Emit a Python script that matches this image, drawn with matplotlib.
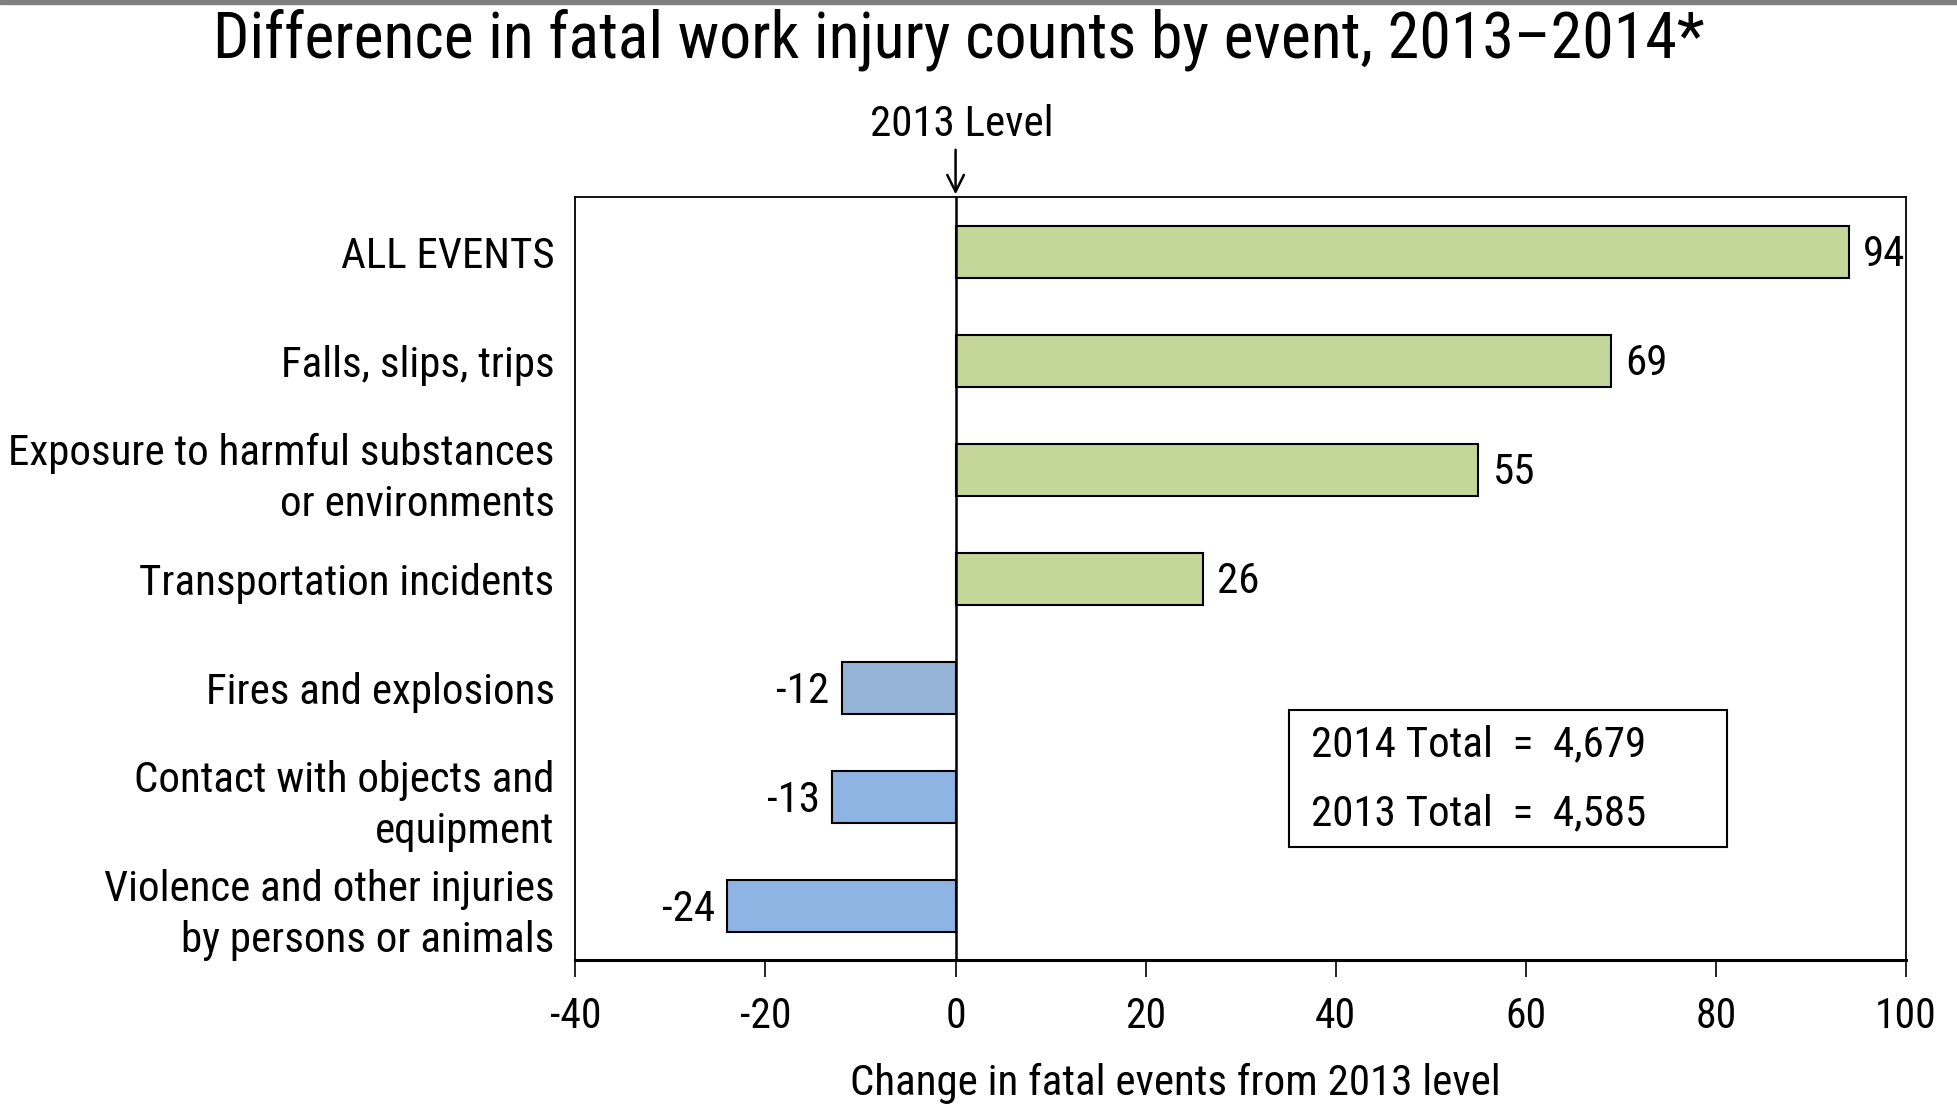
import matplotlib
matplotlib.use('Agg')
import matplotlib.pyplot as plt
from matplotlib import font_manager
from matplotlib.patches import Rectangle
import numpy as np

# data, top to bottom
events = ['ALL EVENTS',
          'Falls, slips, trips',
          'Exposure to harmful substances\nor environments',
          'Transportation incidents',
          'Fires and explosions',
          'Contact with objects and\nequipment',
          'Violence and other injuries\nby persons or animals']
changes = [94, 69, 55, 26, -12, -13, -24]
bar_colors = ['#c4d79b', '#c4d79b', '#c4d79b', '#c4d79b', '#95b3d7', '#8db4e2', '#8db4e2']
total_2014 = '4,679'
total_2013 = '4,585'
xticks = [-40, -20, 0, 20, 40, 60, 80, 100]

# look for a narrow face, else fall back to DejaVu Sans
names = set(f.name for f in font_manager.fontManager.ttflist)
narrow = [n for n in ['Liberation Sans Narrow', 'DejaVu Sans Condensed', 'Roboto Condensed',
                      'Open Sans Condensed'] if n in names]
plt.rcParams['font.family'] = narrow + ['DejaVu Sans']
fs = 31 if narrow else 25
tick_fs = 30 if narrow else 24
title_fs = 46 if narrow else 37

fig = plt.figure(figsize=(19.57, 11.14), dpi=100)
ax = fig.add_axes([0.294, 0.138, 0.680, 0.685])

y = np.arange(len(events))
ax.barh(y, changes, height=0.48, color=bar_colors, edgecolor='black', linewidth=1.5, zorder=2)
ax.set_ylim(len(events) - 0.5, -0.5)
ax.set_xlim(-40, 100)
ax.set_xticks(xticks)
ax.set_xticklabels([str(t) for t in xticks], fontsize=tick_fs)
ax.tick_params(axis='x', direction='out', length=12, width=1.2, pad=14)
ax.set_yticks(y)
ax.set_yticklabels(events, fontsize=fs, linespacing=1.3)
ax.tick_params(axis='y', length=0, pad=15)
for s in ax.spines.values():
    s.set_linewidth(1.3)
ax.spines['bottom'].set_linewidth(2.2)

# zero line, running up to the arrow
ax.axvline(0, color='black', linewidth=1.8, zorder=3)

for yi, v in zip(y, changes):
    if v >= 0:
        ax.text(v + 1.5, yi + 0.03, str(v), ha='left', va='center', fontsize=fs)
    else:
        ax.text(v - 1.3, yi + 0.03, str(v), ha='right', va='center', fontsize=fs)

ax.annotate('', xy=(0, -0.5), xycoords='data', xytext=(0, -0.96),
            arrowprops=dict(arrowstyle='->', color='black', lw=1.8, mutation_scale=30),
            annotation_clip=False)
ax.text(0.7, -1.17, '2013 Level', ha='center', va='center', fontsize=fs, clip_on=False)

# totals box
ax.add_patch(Rectangle((35.1, 4.2), 46.1, 1.26, facecolor='white', edgecolor='black', linewidth=1.5, zorder=4))
ax.text(37.4, 4.52, '2014 Total  =  ' + total_2014, ha='left', va='center', fontsize=fs, zorder=5)
ax.text(37.4, 5.16, '2013 Total  =  ' + total_2013, ha='left', va='center', fontsize=fs, zorder=5)

ax.set_xlabel('Change in fatal events from 2013 level', fontsize=fs)
ax.xaxis.set_label_coords(0.451, -0.135)

fig.text(0.49, 0.964, 'Difference in fatal work injury counts by event, 2013\u20132014*',
         ha='center', va='center', fontsize=title_fs)
fig.add_artist(Rectangle((0, 0.996), 1, 0.004, transform=fig.transFigure, color='#808080'))

fig.savefig('out.png', dpi=100)
